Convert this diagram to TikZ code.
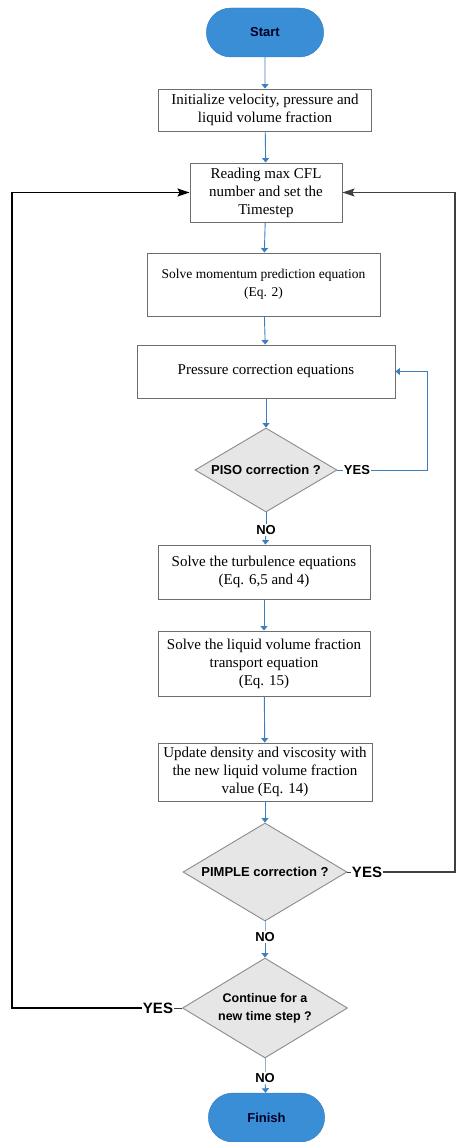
\documentclass[tikz,border=0pt]{standalone}
\usepackage{fontspec}
\setmainfont{Liberation Serif}
\setsansfont{Liberation Sans}
\usetikzlibrary{shapes.geometric,shapes.misc,arrows.meta}
\definecolor{termblue}{HTML}{3A8ED6}
\definecolor{flowblue}{HTML}{3D7EBF}
\definecolor{decgray}{HTML}{E6E6E6}
\definecolor{edgegray}{HTML}{6E6E6E}

\begin{document}
\begin{tikzpicture}
		[x=1pt, y=-1pt,
		proc/.style={rectangle,draw=edgegray,line width=0.9pt,fill=white,align=center,inner sep=2pt,font=\fontsize{15}{18}\selectfont},
		dec/.style={diamond,draw=edgegray!80,line width=0.9pt,fill=decgray,align=center,inner sep=0pt,font=\sffamily\bfseries\fontsize{13}{18}\selectfont},
		term/.style={rounded rectangle,fill=termblue,draw=termblue!85!black,line width=0.4pt,minimum width=124pt,minimum height=49pt,text=black!85!blue,font=\sffamily\bfseries\fontsize{13}{16}\selectfont},
		lbl/.style={inner sep=1pt,font=\sffamily\bfseries\fontsize{13}{16}\selectfont},
		flow/.style={draw=flowblue,line width=0.9pt,-{Triangle[width=7pt,length=4.5pt]}},
		back/.style={draw=black,line width=1.6pt,-{Stealth[length=12pt,width=8pt,inset=2pt]}}]
		\useasboundingbox (0,0) rectangle (457,1142);
		\node (start) [term] at (265,32.5) {Start};
		\node (init) [proc,minimum width=213pt,minimum height=42pt] at (265,110) {Initialize velocity, pressure and\\liquid volume fraction};
		\node (read) [proc,minimum width=152pt,minimum height=59pt] at (266,192.5) {Reading max CFL\\number and set the\\Timestep};
		\node (mom) [proc,minimum width=233pt,minimum height=63pt,font=\fontsize{13.5}{18}\selectfont] at (263.5,284.5) {Solve momentum prediction equation\\(Eq. 2)};
		\node (pres) [proc,minimum width=258pt,minimum height=53pt] at (266,371.5) {Pressure correction equations};
		\node (piso) [dec,aspect=1.69,minimum width=142pt,minimum height=84pt] at (266,470) {PISO correction ?};
		\node (turb) [proc,minimum width=212pt,minimum height=54pt] at (264,572) {Solve the turbulence equations\\(Eq. 6,5 and 4)};
		\node (liq) [proc,minimum width=212pt,minimum height=65pt] at (264,663.5) {Solve the liquid volume fraction\\transport equation\\(Eq. 15)};
		\node (upd) [proc,minimum width=214pt,minimum height=58pt] at (265,772) {Update density and viscosity with\\the new liquid volume fraction\\value (Eq. 14)};
		\node (pimple) [dec,aspect=1.67,minimum width=164pt,minimum height=98pt] at (265,872) {PIMPLE correction ?};
		\node (cont) [dec,aspect=1.65,minimum width=165pt,minimum height=100pt,font=\sffamily\bfseries\fontsize{12.5}{18}\selectfont] at (265,1008) {Continue for a\\new time step ?};
		\node (finish) [term,minimum width=123pt] at (266.5,1117.5) {Finish};
		\node (noP) [lbl] at (266,530) {NO};
		\node (yesP) [lbl] at (357,470) {YES};
		\node (noM) [lbl] at (265,937) {NO};
		\node (yesM) [lbl,font=\sffamily\bfseries\fontsize{15}{18}\selectfont] at (367,872) {YES};
		\node (yesC) [lbl,font=\sffamily\bfseries\fontsize{15}{18}\selectfont] at (158,1008) {YES};
		\node (noC) [lbl] at (265,1078) {NO};
		\coordinate (pisoR) at (427,470);
		\coordinate (rightR) at (455,872);
		\coordinate (leftL) at (12,1008);
		% main flow
		\draw [flow] (start) -- (init);
		\draw [flow] (init) -- (read);
		\draw [flow] (read) -- (mom);
		\draw [flow] (mom) -- (pres);
		\draw [flow] (pres) -- (piso);
		\draw [draw=flowblue,line width=0.9pt] (piso) -- (noP);
		\draw [flow] (noP) -- (turb);
		\draw [flow] (turb) -- (liq);
		\draw [flow] (liq) -- (upd);
		\draw [flow] (upd) -- (pimple);
		\draw [draw=flowblue!60,line width=0.9pt] (pimple) -- (noM);
		\draw [flow] (noM) -- (cont);
		\draw [draw=flowblue!60,line width=0.9pt] (cont) -- (noC);
		\draw [flow] (noC) -- (finish);
		% loops
		\draw [draw=flowblue!70!gray,line width=0.9pt] (piso.east) -- (yesP.west);
		\draw [flow] (yesP.east) -- (pisoR) |- (pres.east);
		\draw [draw=black!75,line width=0.9pt] (pimple.east) -- (yesM.west);
		\draw [back,draw=black!75,line width=1.2pt] (yesM.east) -- (rightR) |- (read.east);
		\draw [draw=black!75,line width=0.9pt] (cont.west) -- (yesC.east);
		\draw [back] (yesC.west) -- (leftL) |- (read.west);
	\end{tikzpicture}
\end{document}
